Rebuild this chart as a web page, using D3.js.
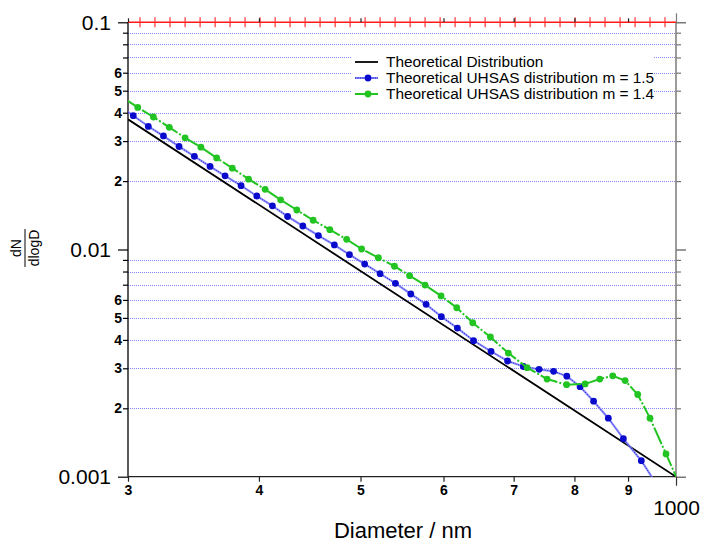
<!DOCTYPE html>
<html><head><meta charset="utf-8">
<script src="https://cdn.jsdelivr.net/npm/d3@7"></script>
<style>body{margin:0;background:#fff}svg{display:block}</style>
</head><body><svg id="c" width="704" height="546"></svg>
<script>
// ---- data ----
const theoryDiam = [300, 1000];
const theoryVal = [0.0374, 0.001];

const blueDiam = [293.5, 303.5, 313.7, 324.3, 335.6, 347.1, 359.3, 371.3, 384.6, 398.1, 412.0, 426.0, 440.5, 455.8, 472.1, 488.0, 504.6, 522.0, 539.9, 558.4, 577.5, 597.2, 618.6, 641.0, 666.1, 690.7, 715.1, 740.2, 764.2, 786.7, 810.0, 834.4, 861.8, 890.8, 926.6, 959.1];
const blueVal = [0.0433, 0.0388, 0.0348, 0.0316, 0.0284, 0.0257, 0.0232, 0.0211, 0.0191, 0.0172, 0.01557, 0.01397, 0.01269, 0.01152, 0.01047, 0.00949, 0.00863, 0.00783, 0.0071, 0.00637, 0.00574, 0.00506, 0.00451, 0.00397, 0.00356, 0.00323, 0.003055, 0.00297, 0.00291, 0.00277, 0.00249, 0.00215, 0.00181, 0.00147, 0.001176, 0.00092];

const greenDiam = [296.1, 306.5, 317.2, 328.5, 340.1, 352.1, 364.5, 377.3, 391.0, 405.5, 419.5, 434.7, 450.6, 467.4, 485.0, 501.2, 520.0, 538.7, 556.9, 576.2, 596.8, 617.7, 639.8, 665.1, 691.9, 721.0, 753.3, 786.3, 819.0, 845.8, 870.3, 894.2, 919.3, 944.5, 978.3, 1013.3];
const greenVal = [0.0469, 0.0422, 0.0383, 0.0345, 0.0310, 0.0282, 0.0253, 0.0228, 0.0204, 0.0184, 0.01654, 0.01492, 0.01345, 0.01222, 0.01109, 0.01005, 0.0092, 0.00844, 0.00767, 0.00697, 0.00625, 0.00554, 0.00476, 0.00412, 0.0035, 0.00302, 0.00269, 0.00254, 0.00256, 0.00269, 0.00278, 0.00265, 0.0023, 0.00181, 0.00126, 0.000874];

const redTicks = [308.0, 318.3, 329.0, 340.1, 351.5, 363.3, 375.4, 388.0, 401.0, 414.5, 428.3, 442.7, 457.5, 472.9, 488.7, 505.1, 522.0, 539.5, 557.6, 576.2, 595.6, 615.5, 636.1, 657.5, 679.5, 702.3, 725.8, 749.9, 775.1, 801.1, 827.9, 855.6, 884.4, 914.0, 944.5, 976.1];

const xMinorTicks = [300, 400, 500, 600, 700, 800, 900];
const xMinorLabels = ["3", "4", "5", "6", "7", "8", "9"];
const xMajorTicks = [1000];
const xMajorLabels = ["1000"];

const yMajorTicks = [0.001, 0.01, 0.1];
const yMajorLabels = ["0.001", "0.01", "0.1"];
const yMinorLabelled = [0.002, 0.003, 0.004, 0.005, 0.006, 0.02, 0.03, 0.04, 0.05, 0.06];
const yMinorLabels = ["2", "3", "4", "5", "6", "2", "3", "4", "5", "6"];
const yMinorPlain = [0.007, 0.008, 0.009, 0.07, 0.08, 0.09];

const seriesNames = ["Theoretical Distribution", "Theoretical UHSAS distribution m = 1.5", "Theoretical UHSAS distribution m = 1.4"];
const xTitle = "Diameter / nm";

// ---- drawing ----
const FONT = '"Liberation Sans", Arial, Helvetica, sans-serif';
const svg = d3.select("#c").attr("font-family", FONT);
const L = 128, R = 676, T = 22.3, B = 476.7;
const x = d3.scaleLog().domain([300, 1000]).range([L, R]);
const y = d3.scaleLog().domain([0.001, 0.1]).range([B, T]);

// grid
const gridValues = yMinorLabelled.concat(yMinorPlain);
svg.append("g").selectAll("line").data(gridValues).join("line")
  .attr("x1", L).attr("x2", R)
  .attr("y1", d => Math.round(y(d)) + 0.5).attr("y2", d => Math.round(y(d)) + 0.5)
  .attr("stroke", "#7070ff").attr("stroke-width", 1).attr("stroke-dasharray", "1,1").attr("opacity", 0.85);

// legend background
svg.append("rect").attr("x", 351).attr("y", 50).attr("width", 302).attr("height", 49).attr("fill", "#fff");

// axes helpers
function style(g, color, size, weight) {
  g.attr("font-family", FONT);
  g.select(".domain").remove();
  g.selectAll("line").attr("stroke", color).attr("stroke-width", 1.2);
  g.selectAll("text").attr("fill", "#000").attr("font-size", size).attr("font-weight", weight);
}

// left axis
const gL = svg.append("g").attr("transform", `translate(${L},0)`);
gL.append("g").call(d3.axisLeft(y).tickValues(yMinorPlain).tickSize(5).tickFormat("")).call(g => style(g, "#000", 14, "bold"));
gL.append("g").call(d3.axisLeft(y).tickValues(yMinorLabelled).tickSize(5).tickPadding(1).tickFormat((d, i) => yMinorLabels[i])).call(g => style(g, "#000", 14, "bold"));
gL.append("g").call(d3.axisLeft(y).tickValues(yMajorTicks).tickSize(10).tickPadding(7).tickFormat((d, i) => yMajorLabels[i])).call(g => style(g, "#000", 21, "normal"));
gL.append("line").attr("x1", 0).attr("x2", 0).attr("y1", T).attr("y2", B).attr("stroke", "#000").attr("stroke-width", 1.3);

// right axis
const gR = svg.append("g").attr("transform", `translate(${R},0)`);
gR.append("g").call(d3.axisRight(y).tickValues(yMinorLabelled.concat(yMinorPlain)).tickSize(5).tickFormat("")).call(g => style(g, "#777", 14, "normal"));
gR.append("g").call(d3.axisRight(y).tickValues(yMajorTicks).tickSize(10).tickFormat("")).call(g => style(g, "#555", 14, "normal"));
gR.append("line").attr("x1", 0).attr("x2", 0).attr("y1", T).attr("y2", B).attr("stroke", "#7a7a7a").attr("stroke-width", 1.5);

// bottom axis
const gB = svg.append("g").attr("transform", `translate(0,${B})`);
gB.append("g").call(d3.axisBottom(x).tickValues(xMinorTicks).tickSize(5).tickPadding(3).tickFormat((d, i) => xMinorLabels[i])).call(g => style(g, "#222", 14, "bold"));
gB.append("g").call(d3.axisBottom(x).tickValues(xMajorTicks).tickSize(9).tickPadding(14).tickFormat((d, i) => xMajorLabels[i])).call(g => style(g, "#333", 21, "normal"));
gB.append("line").attr("x1", L).attr("x2", R).attr("y1", 0).attr("y2", 0).attr("stroke", "#222").attr("stroke-width", 1.3);

// top: red line + red ticks
svg.append("line").attr("x1", L).attr("x2", R).attr("y1", T).attr("y2", T).attr("stroke", "#ff1a1a").attr("stroke-width", 1.5);
svg.append("g").selectAll("line").data(redTicks).join("line")
  .attr("x1", d => x(d)).attr("x2", d => x(d)).attr("y1", T - 5).attr("y2", T + 5)
  .attr("stroke", "#ff3333").attr("stroke-width", 1.2);
const gT = svg.append("g").attr("transform", `translate(0,${T})`);
gT.append("g").call(d3.axisTop(x).tickValues(xMinorTicks).tickSize(4).tickFormat("")).call(g => style(g, "#222", 14, "normal"));
gT.append("g").call(d3.axisTop(x).tickValues(xMajorTicks).tickSize(9).tickFormat("")).call(g => style(g, "#7a7a7a", 14, "normal"));

// clip
svg.append("clipPath").attr("id", "clip").append("rect").attr("x", L).attr("y", T).attr("width", R - L).attr("height", B - T);
const plot = svg.append("g").attr("clip-path", "url(#clip)");
const line = d3.line().x(d => x(d[0])).y(d => y(d[1]));

const theory = theoryDiam.map((d, i) => [d, theoryVal[i]]);
const blue = blueDiam.map((d, i) => [d, blueVal[i]]);
const green = greenDiam.map((d, i) => [d, greenVal[i]]);

plot.append("path").datum(theory).attr("d", line).attr("fill", "none").attr("stroke", "#000").attr("stroke-width", 1.8);

plot.append("path").datum(blue).attr("d", line).attr("fill", "none").attr("stroke", "#7f7fff").attr("stroke-width", 2.2).attr("opacity", 0.85);
plot.append("path").datum(blue).attr("d", line).attr("fill", "none").attr("stroke", "#1a1ad0").attr("stroke-width", 1).attr("stroke-dasharray", "1,1.5");
plot.append("g").selectAll("circle").data(blue).join("circle")
  .attr("cx", d => x(d[0])).attr("cy", d => y(d[1])).attr("r", 3.4).attr("fill", "#0a0acc");

plot.append("path").datum(green).attr("d", line).attr("fill", "none").attr("stroke", "#22c422").attr("stroke-width", 2).attr("stroke-dasharray", "18,2,2,2");
plot.append("g").selectAll("circle").data(green).join("circle")
  .attr("cx", d => x(d[0])).attr("cy", d => y(d[1])).attr("r", 3.4).attr("fill", "#22c422");

// legend
const leg = svg.append("g").attr("transform", "translate(355,0)");
const rows = [62, 78, 94];
leg.append("line").attr("x1", 0).attr("x2", 23).attr("y1", rows[0]).attr("y2", rows[0]).attr("stroke", "#000").attr("stroke-width", 1.8);
leg.append("line").attr("x1", 0).attr("x2", 23).attr("y1", rows[1]).attr("y2", rows[1]).attr("stroke", "#7f7fff").attr("stroke-width", 2);
leg.append("line").attr("x1", 0).attr("x2", 23).attr("y1", rows[1]).attr("y2", rows[1]).attr("stroke", "#1a1ad0").attr("stroke-width", 1).attr("stroke-dasharray", "1,1.5");
leg.append("circle").attr("cx", 13).attr("cy", rows[1]).attr("r", 3.4).attr("fill", "#0a0acc");
leg.append("line").attr("x1", 0).attr("x2", 23).attr("y1", rows[2]).attr("y2", rows[2]).attr("stroke", "#22c422").attr("stroke-width", 2);
leg.append("circle").attr("cx", 13).attr("cy", rows[2]).attr("r", 3.4).attr("fill", "#22c422");
leg.selectAll("text").data(seriesNames).join("text")
  .attr("x", 31).attr("y", (d, i) => rows[i]).attr("dy", "0.35em")
  .attr("font-size", 15.4).attr("fill", "#000").text(d => d);

// x title
svg.append("text").attr("x", 403).attr("y", 538).attr("text-anchor", "middle").attr("font-size", 22).attr("fill", "#000").text(xTitle);

// y title (fraction dN / dlogD)
const yt = svg.append("g").attr("transform", "translate(25,248) rotate(-90)");
yt.append("text").attr("x", 0).attr("y", -4).attr("text-anchor", "middle").attr("font-size", 14).text("dN");
yt.append("line").attr("x1", -19).attr("x2", 19).attr("y1", 0).attr("y2", 0).attr("stroke", "#000").attr("stroke-width", 1);
yt.append("text").attr("x", 0).attr("y", 14).attr("text-anchor", "middle").attr("font-size", 14).text("dlogD");
</script>
</body></html>
